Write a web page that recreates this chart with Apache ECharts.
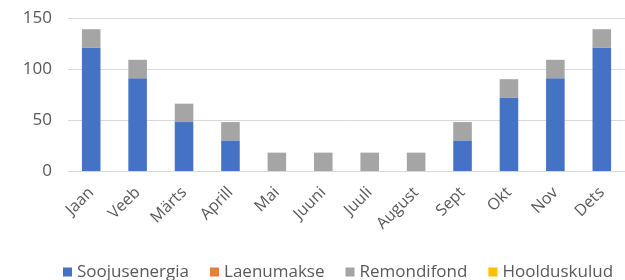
<!DOCTYPE html>
<html><head><meta charset="utf-8">
<script src="https://cdn.jsdelivr.net/npm/echarts@6/dist/echarts.min.js"></script>
<style>html,body{margin:0;padding:0;background:#fff}#c{width:625px;height:280px}</style>
</head><body><div id="c"></div>
<script>
const categories = ['Jaan','Veeb','Märts','Aprill','Mai','Juuni','Juuli','August','Sept','Okt','Nov','Dets'];
const soojusenergia = [121, 91, 48, 30, 0, 0, 0, 0, 30, 72, 91, 121];
const laenumakse = [0,0,0,0,0,0,0,0,0,0,0,0];
const remondifond = [18, 18, 18, 18, 18, 18, 18, 18, 18, 18, 18, 18];
const hoolduskulud = [0,0,0,0,0,0,0,0,0,0,0,0];
const yTicks = [0, 50, 100, 150];

const chart = echarts.init(document.getElementById('c'));
const font = '"Open Sans", Roboto, sans-serif';
function s(name, data, color){
  return {name, type:'bar', stack:'a', data, barWidth:'40%', itemStyle:{color}};
}
chart.setOption({
  animation:false,
  textStyle:{fontFamily:font},
  grid:{left:68, top:18, width:568, height:153, containLabel:false},
  legend:{
    top:262, left:63, icon:'rect', itemWidth:9, itemHeight:9, itemGap:21, padding:0,
    textStyle:{color:'#595959', fontSize:17, lineHeight:20, fontFamily:font},
    data:['Soojusenergia','Laenumakse','Remondifond','Hoolduskulud']
  },
  xAxis:{type:'category', data:categories,
    axisLine:{lineStyle:{color:'#D9D9D9'}}, axisTick:{show:false},
    axisLabel:{rotate:45, color:'#595959', fontSize:16, margin:19, interval:0, fontFamily:font}},
  yAxis:{type:'value', min:yTicks[0], max:yTicks[yTicks.length-1], interval:50,
    axisLine:{show:false}, axisTick:{show:false},
    splitLine:{lineStyle:{color:'#D9D9D9'}},
    axisLabel:{color:'#595959', fontSize:17, margin:16, fontFamily:font}},
  series:[
    s('Soojusenergia', soojusenergia, '#4472C4'),
    s('Laenumakse', laenumakse, '#ED7D31'),
    s('Remondifond', remondifond, '#A5A5A5'),
    s('Hoolduskulud', hoolduskulud, '#FFC000')
  ]
});
</script></body></html>
